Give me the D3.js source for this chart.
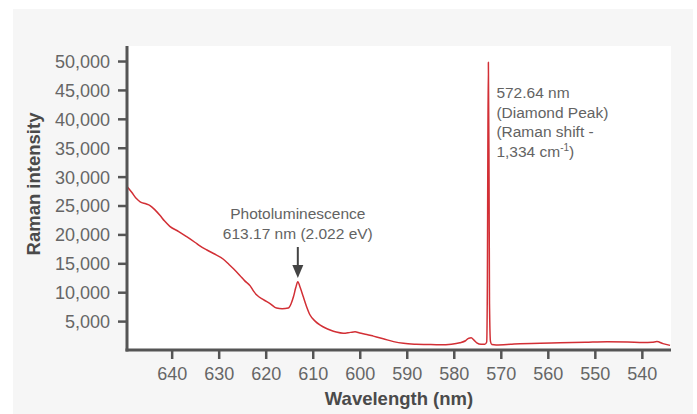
<!DOCTYPE html>
<html>
<head>
<meta charset="utf-8">
<script src="https://cdn.jsdelivr.net/npm/d3@7"></script>
<style>
  body { margin: 0; background: #ffffff; }
  svg { display: block; font-family: "Liberation Sans", Arial, sans-serif; }
  .tick text { fill: #666666; font-size: 18px; }
  .axisTitle { fill: #4a4a4a; font-size: 18.5px; font-weight: bold; }
  .note { fill: #636363; font-size: 15.5px; }
</style>
</head>
<body>
<div id="chart"></div>
<script>
// spectrum (wavelength in nm, Raman intensity)
let wavelengths = [
  649.5, 648.5, 647.5, 646.7, 645.5, 644.6, 643.5, 642.5, 641.5, 640.4,
  638.5, 636.8, 635.0, 634.0, 632.5, 631.1, 629.0, 627.8, 626.9, 625.5,
  624.5, 623.3, 622.5, 621.9, 620.5, 619.0, 617.7, 616.5, 615.2, 614.6,
  614.1, 613.6, 613.17, 612.7, 612.0, 611.3, 610.6, 609.5, 608.4, 607.3,
  606.3, 605.0, 603.5, 602.0, 601.0, 600.0, 598.5, 597.1, 595.0, 592.8,
  590.7, 588.0, 585.7, 582.9, 580.5, 578.7, 577.5, 576.8, 576.3, 575.7,
  575.1, 574.2, 573.4, 573.0, 572.85, 572.75, 572.64, 572.5, 572.4, 572.2,
  571.9, 571.0, 568.0, 565.9, 561.6, 557.4, 552.0, 547.4, 543.0, 539.7,
  537.8, 536.8, 535.5, 534.0
];
let intensities = [
  28300, 27300, 26200, 25650, 25300, 25000, 24200, 23300, 22300, 21400,
  20500, 19600, 18600, 18000, 17300, 16700, 15700, 14800, 14100, 12900,
  12000, 11100, 10100, 9500, 8700, 8000, 7250, 7150, 7250, 8000,
  9200, 10800, 11800, 10900, 9200, 7500, 6100, 5000, 4300, 3800,
  3450, 3100, 2900, 3050, 3150, 2950, 2700, 2400, 1950, 1450,
  1150, 1000, 950, 900, 1000, 1250, 1600, 2050, 2100, 1700,
  1250, 1000, 1000, 1400, 12000, 35000, 49800, 30000, 8000, 1500,
  950, 880, 990, 1100, 1150, 1250, 1350, 1440, 1400, 1300,
  1350, 1450, 1100, 800
];
let xTicks = [640, 630, 620, 610, 600, 590, 580, 570, 560, 550, 540];
let yTicks = [5000, 10000, 15000, 20000, 25000, 30000, 35000, 40000, 45000, 50000];

let svgWidth = 697;
let svgHeight = 414;

// plot box
let plot = { left: 127, right: 671, top: 46, bottom: 350 };

let svg = d3.select('#chart').append('svg')
  .attr('width', svgWidth)
  .attr('height', svgHeight);

// grey panel and white plotting area
svg.append('rect')
  .attr('x', 13).attr('y', 9)
  .attr('width', 680).attr('height', 405)
  .attr('fill', '#f6f6f6');

svg.append('rect')
  .attr('x', plot.left).attr('y', plot.top)
  .attr('width', plot.right - plot.left).attr('height', plot.bottom - plot.top)
  .attr('fill', '#ffffff');

// x runs from long to short wavelength
let x = d3.scaleLinear()
  .domain([649.5, 533.8])
  .range([plot.left, plot.right]);

let y = d3.scaleLinear()
  .domain([0, 52600])
  .range([plot.bottom, plot.top]);

let data = wavelengths.map((w, i) => ({ w: w, v: intensities[i] }));

//spectrum line
let line = d3.line()
  .x(d => x(d.w))
  .y(d => y(d.v))
  .curve(d3.curveMonotoneX);

svg.append('path')
  .datum(data)
  .attr('fill', 'none')
  .attr('stroke', '#d22f35')
  .attr('stroke-width', 1.5)
  .attr('stroke-linejoin', 'round')
  .attr('d', line);

//axes
let xAxis = svg.append('g')
  .attr('transform', `translate(0, ${plot.bottom})`)
  .call(d3.axisBottom(x).tickValues(xTicks).tickSize(9).tickSizeOuter(0).tickPadding(8));

let yAxis = svg.append('g')
  .attr('transform', `translate(${plot.left}, 0)`)
  .call(d3.axisLeft(y).tickValues(yTicks).tickSize(9).tickSizeOuter(0).tickPadding(8)
    .tickFormat(d3.format(',')));

[xAxis, yAxis].forEach(function (g) {
  g.attr('font-family', null).attr('font-size', null);
  g.select('.domain').attr('stroke', '#555555').attr('stroke-width', 3);
  g.selectAll('.tick line').attr('stroke', '#555555').attr('stroke-width', 2.5);
});
xAxis.select('.domain').attr('d', `M${plot.left - 1.5},0H${plot.right}`);
yAxis.select('.domain').attr('d', `M0,${plot.top}V${plot.bottom + 1.5}`);
yAxis.selectAll('.tick text').attr('dy', '0.36em');

//axis titles
svg.append('text')
  .classed('axisTitle', true)
  .attr('x', (plot.left + plot.right) / 2)
  .attr('y', 405)
  .attr('text-anchor', 'middle')
  .text('Wavelength (nm)');

svg.append('text')
  .classed('axisTitle', true)
  .attr('transform', 'translate(40, 184) rotate(-90)')
  .attr('text-anchor', 'middle')
  .text('Raman intensity');

//photoluminescence note with arrow
let plX = x(613.17);
let plNote = svg.append('text')
  .classed('note', true)
  .attr('text-anchor', 'middle');
plNote.append('tspan').attr('x', plX).attr('y', 219).text('Photoluminescence');
plNote.append('tspan').attr('x', plX).attr('y', 238.5).text('613.17 nm (2.022 eV)');

svg.append('line')
  .attr('x1', plX).attr('x2', plX)
  .attr('y1', 247).attr('y2', 267)
  .attr('stroke', '#444444')
  .attr('stroke-width', 2);

svg.append('path')
  .attr('d', `M${plX - 5.5},265L${plX + 5.5},265L${plX},278Z`)
  .attr('fill', '#444444');

//diamond peak note
let dX = x(572.64) + 8;
let dNote = svg.append('text')
  .classed('note', true);
dNote.append('tspan').attr('x', dX).attr('y', 98).text('572.64 nm');
dNote.append('tspan').attr('x', dX).attr('y', 117.5).text('(Diamond Peak)');
dNote.append('tspan').attr('x', dX).attr('y', 137).text('(Raman shift -');
dNote.append('tspan').attr('x', dX).attr('y', 156.5).text('1,334 cm');
dNote.append('tspan').attr('dy', -6).attr('font-size', '10px').text('-1');
dNote.append('tspan').attr('dy', 6).text(')');
</script>
</body>
</html>
